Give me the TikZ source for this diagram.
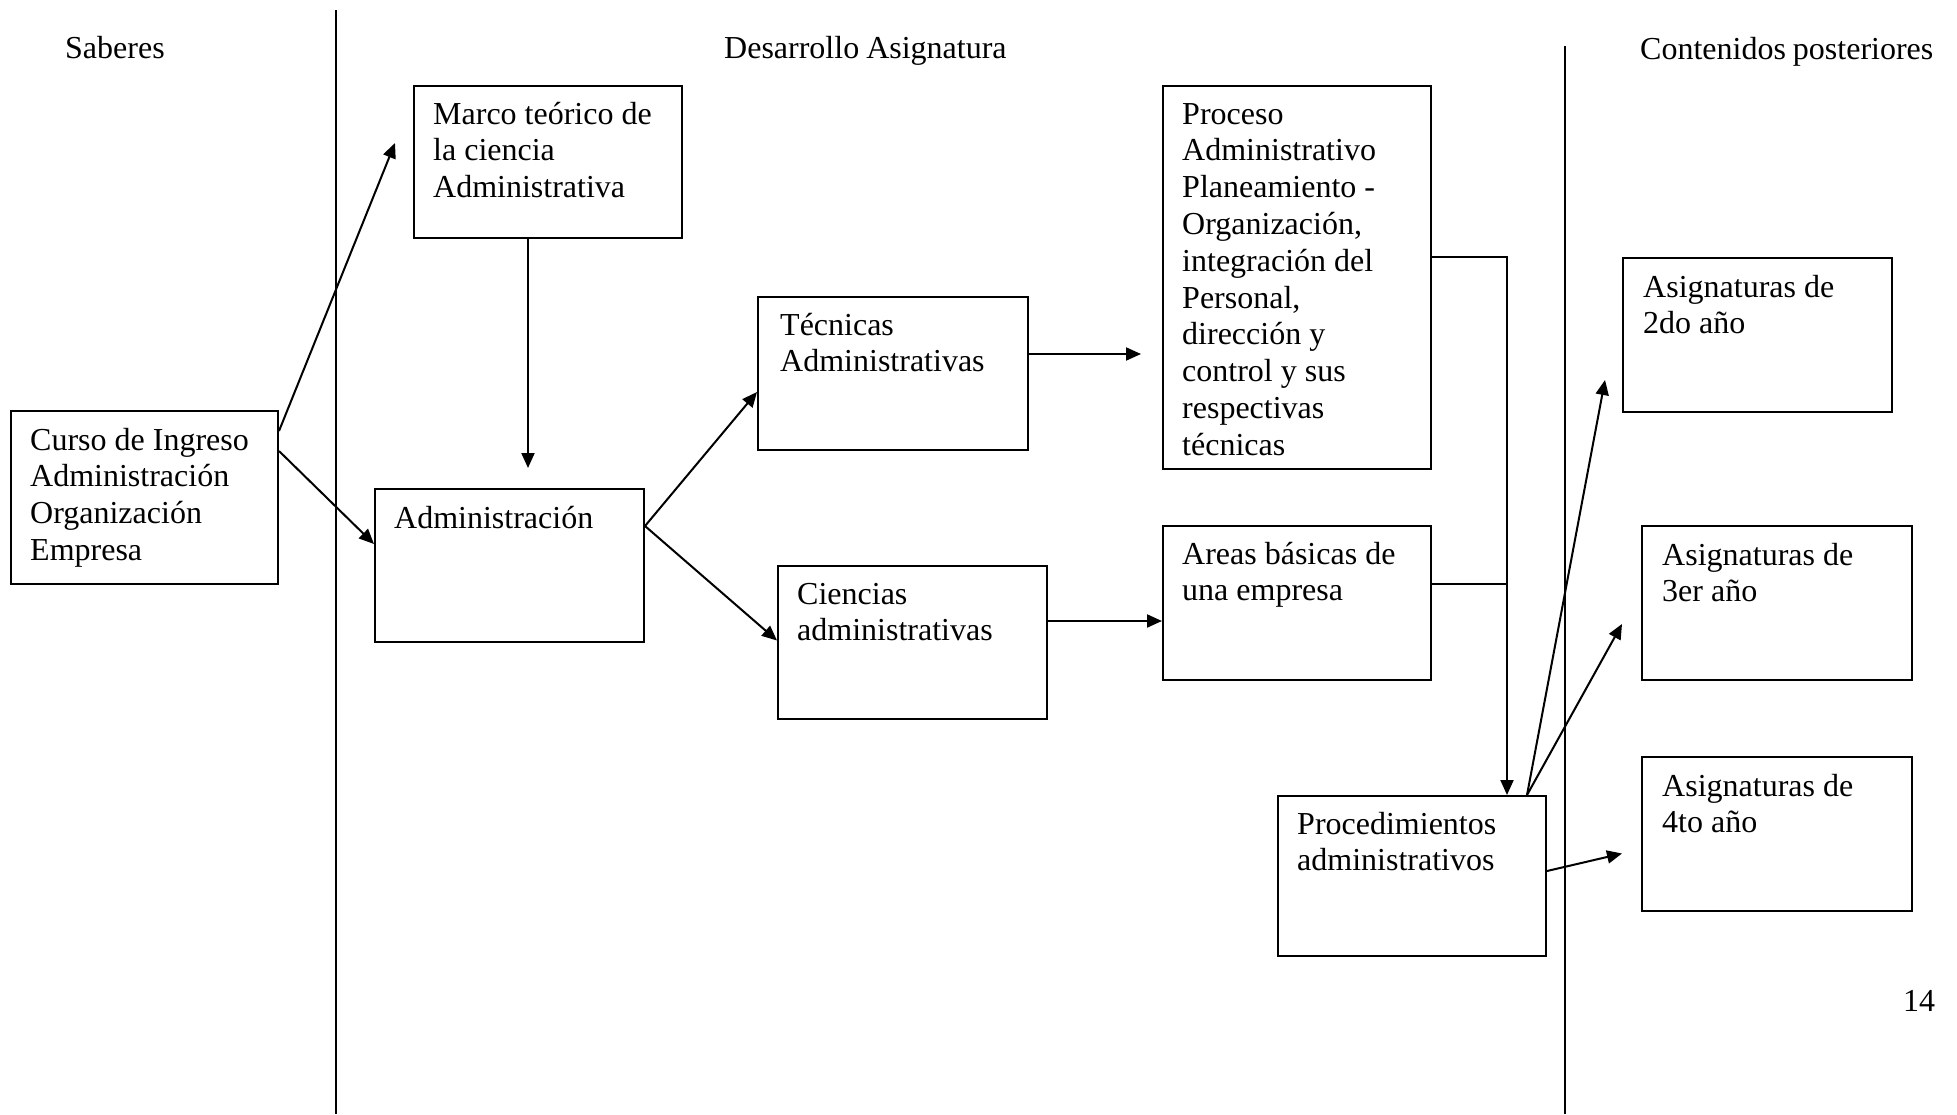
\documentclass[tikz,border=0pt]{standalone}
\usepackage{fontspec}
\setmainfont{Liberation Serif}
\usetikzlibrary{arrows.meta}
\newcommand\myboxfont{\fontsize{32}{36.8}\selectfont}
\newcommand\myheadfont{\fontsize{32}{36.8}\selectfont\spaceskip 7pt plus 1pt\relax}
\tikzset{
  box/.style={draw, line width=2pt, rectangle, inner sep=0pt, anchor=north west},
  txt/.style={inner sep=0pt, align=flush left, text width=240pt, anchor=base west, font=\myboxfont},
  head/.style={inner sep=0pt, anchor=base west, font=\myheadfont},
  conn/.style={line width=2pt},
  arr/.style={line width=2pt, -{Triangle[length=15pt,width=13pt]}},
  sep/.style={line width=2.6pt}
}
\begin{document}
\begin{tikzpicture}[x=1pt,y=-1pt]
\useasboundingbox[fill=white] (0,0) rectangle (1957,1114);
% separators
\coordinate (s1t) at (336,10);
\coordinate (s1b) at (336,1114);
\coordinate (s2t) at (1565,46);
\coordinate (s2b) at (1565,1114);
\draw[sep] (s1t) -- (s1b);
\draw[sep] (s2t) -- (s2b);
% headers
\node[head] (hsab) at (65,58) {Saberes};
\node[head] (hdes) at (724,58) {Desarrollo Asignatura};
\node[head] (hcon) at (1640,59) {Contenidos posteriores};
\node[head] (hpag) at (1903,1011) {14};
% boxes
\node[box, minimum width=267pt, minimum height=173pt] (curso) at (10,410) {};
\node[box, minimum width=268pt, minimum height=152pt] (marco) at (413,85) {};
\node[box, minimum width=269pt, minimum height=153pt] (admin) at (374,488) {};
\node[box, minimum width=270pt, minimum height=153pt] (tec) at (757,296) {};
\node[box, minimum width=269pt, minimum height=153pt] (cien) at (777,565) {};
\node[box, minimum width=268pt, minimum height=383pt] (proc) at (1162,85) {};
\node[box, minimum width=268pt, minimum height=154pt] (areas) at (1162,525) {};
\node[box, minimum width=268pt, minimum height=160pt] (proced) at (1277,795) {};
\node[box, minimum width=269pt, minimum height=154pt] (a2) at (1622,257) {};
\node[box, minimum width=270pt, minimum height=154pt] (a3) at (1641,525) {};
\node[box, minimum width=270pt, minimum height=154pt] (a4) at (1641,756) {};
% box texts
\node[txt] (tcurso) at ([shift={(20,40)}]curso.north west) {Curso de Ingreso\\Administración\\Organización\\Empresa};
\node[txt] (tmarco) at ([shift={(20,39)}]marco.north west) {Marco teórico de\\la ciencia\\Administrativa};
\node[txt] (tadmin) at ([shift={(20,40)}]admin.north west) {Administración};
\node[txt] (ttec) at ([shift={(23,39)}]tec.north west) {Técnicas\\Administrativas};
\node[txt] (tcien) at ([shift={(20,39)}]cien.north west) {Ciencias\\administrativas};
\node[txt] (tproc) at ([shift={(20,39)}]proc.north west) {Proceso\\Administrativo\\Planeamiento -\\Organización,\\integración del\\Personal,\\dirección y\\control y sus\\respectivas\\técnicas};
\node[txt] (tareas) at ([shift={(20,39)}]areas.north west) {Areas básicas de\\una empresa};
\node[txt] (tproced) at ([shift={(20,39)}]proced.north west) {Procedimientos\\administrativos};
\node[txt] (ta2) at ([shift={(21,40)}]a2.north west) {Asignaturas de\\2do año};
\node[txt] (ta3) at ([shift={(21,40)}]a3.north west) {Asignaturas de\\3er año};
\node[txt] (ta4) at ([shift={(21,40)}]a4.north west) {Asignaturas de\\4to año};
% free arrow ends
\coordinate (cm) at (395,143);
\coordinate (ma) at (528,468);
\coordinate (tp) at (1141,354);
\coordinate (jx) at (1507,584);
\coordinate (t2) at (1605,380);
\coordinate (t3) at (1622,624);
\coordinate (t4) at (1622,853.5);
% connectors
\draw[arr] ([yshift=-21pt]curso.north east) -- (cm);
\draw[arr] ([yshift=-41pt]curso.north east) -- ([yshift=-56pt]admin.north west);
\draw[arr] (ma |- marco.south) -- (ma);
\draw[arr] ([yshift=-38pt]admin.north east) -- ([yshift=-96pt]tec.north west);
\draw[arr] ([yshift=-38pt]admin.north east) -- ([yshift=-75.5pt]cien.north west);
\draw[arr] ([yshift=-58pt]tec.north east) -- (tp);
\draw[arr] ([yshift=-56pt]cien.north east) -- ([yshift=-96pt]areas.north west);
\draw[arr] ([yshift=-172pt]proc.north east) -| ([xshift=230pt]proced.north west);
\draw[conn] (areas.east |- jx) -- (jx);
\draw[arr] ([xshift=250pt]proced.north west) -- (t2);
\draw[arr] ([xshift=250pt]proced.north west) -- (t3);
\draw[arr] ([yshift=-76pt]proced.north east) -- (t4);
\end{tikzpicture}
\end{document}
